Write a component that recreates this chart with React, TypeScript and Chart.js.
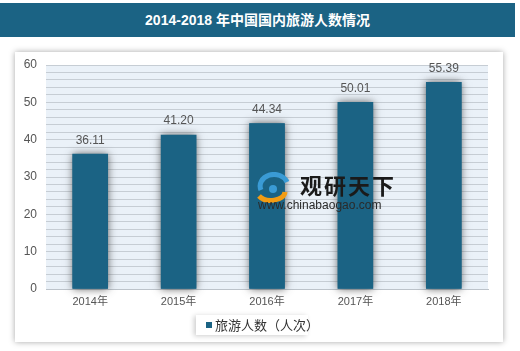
import React, { useEffect, useRef } from "react";
import { Chart, registerables } from "chart.js";

Chart.register(...registerables);

const categories = ["2014年", "2015年", "2016年", "2017年", "2018年"];
const seriesName = "旅游人数（人次）";
const values = [36.11, 41.2, 44.34, 50.01, 55.39];
const yTicks = [0, 10, 20, 30, 40, 50, 60];

const BAR = "#1b6384";
const FONT = "'Liberation Sans', 'Noto Sans CJK SC', Arial, sans-serif";

export default function App() {
  const ref = useRef<HTMLCanvasElement | null>(null);

  useEffect(() => {
    document.body.style.margin = "0";
    const bgPlugin = {
      id: "plotBg",
      beforeDraw(chart: any) {
        const { ctx, chartArea: a } = chart;
        ctx.save();
        ctx.fillStyle = "#eaf1f8";
        ctx.fillRect(a.left, a.top, a.right - a.left, a.bottom - a.top);
        ctx.restore();
      },
    };
    const shadowPlugin = {
      id: "barShadow",
      beforeDatasetsDraw(chart: any) {
        const ctx = chart.ctx;
        const meta = chart.getDatasetMeta(0);
        ctx.save();
        ctx.shadowColor = "rgba(60,60,60,0.8)";
        ctx.shadowBlur = 8;
        ctx.shadowOffsetX = 0;
        ctx.shadowOffsetY = 0;
        ctx.fillStyle = BAR;
        meta.data.forEach((bar: any) => {
          const p = bar.getProps(["x", "y", "base", "width"], true);
          ctx.fillRect(p.x - p.width / 2, p.y, p.width, p.base - p.y);
        });
        ctx.restore();
      },
      afterDatasetsDraw(chart: any) {
        const ctx = chart.ctx;
        const meta = chart.getDatasetMeta(0);
        ctx.save();
        ctx.font = `12px ${FONT}`;
        ctx.fillStyle = "#555555";
        ctx.textAlign = "center";
        ctx.textBaseline = "middle";
        meta.data.forEach((bar: any, i: number) => {
          ctx.fillText(values[i].toFixed(2), bar.x, bar.y - 14);
        });
        ctx.restore();
      },
    };

    const chart = new Chart(ref.current as HTMLCanvasElement, {
      type: "bar",
      data: {
        labels: categories,
        datasets: [
          {
            label: seriesName,
            data: values,
            backgroundColor: BAR,
            borderWidth: 0,
            barThickness: 35,
          },
        ],
      },
      options: {
        responsive: false,
        animation: false,
        layout: { padding: { left: 15, right: 32, top: 65, bottom: 0 } },
        plugins: {
          legend: { display: false },
          tooltip: { enabled: false },
          title: { display: false },
        },
        scales: {
          x: {
            grid: { display: false, drawTicks: false },
            border: { display: true, color: "#bcc3ca", width: 1 },
            ticks: {
              padding: 6,
              color: "#555555",
              font: { size: 11, family: FONT },
            },
            afterFit(scale: any) {
              scale.height = 62;
            },
          },
          y: {
            min: 0,
            max: 60,
            grid: { color: "#c6cdd4", lineWidth: 1, drawTicks: false },
            border: { display: false },
            ticks: {
              stepSize: 2,
              autoSkip: false,
              padding: 9,
              color: "#555555",
              font: { size: 12, family: FONT },
              callback: (v: any) => (yTicks.includes(Number(v)) ? String(v) : ""),
            },
            afterFit(scale: any) {
              scale.width = 31;
            },
          },
        },
      },
      plugins: [bgPlugin, shadowPlugin],
    });
    return () => chart.destroy();
  }, []);

  return (
    <div style={{ position: "relative", width: 520, height: 351, background: "#ffffff", overflow: "hidden", fontFamily: FONT }}>
      <div
        style={{
          position: "absolute",
          left: 0,
          top: 3,
          width: 515,
          height: 34,
          background: BAR,
          color: "#ffffff",
          fontWeight: "bold",
          fontSize: 14,
          lineHeight: "34px",
          textAlign: "center",
        }}
      >
        2014-2018 年中国国内旅游人数情况
      </div>
      <div
        style={{
          position: "absolute",
          left: 15,
          top: 52,
          width: 488,
          height: 290,
          background: "#ffffff",
          boxShadow: "0 0 6px rgba(0,0,0,0.35)",
        }}
      />
      <canvas ref={ref} width={520} height={351} style={{ position: "absolute", left: 0, top: 0 }} />
      <div style={{ position: "absolute", left: 253, top: 170, width: 150, height: 45, pointerEvents: "none" }}>
        <svg width="40" height="32" style={{ position: "absolute", left: 2, top: 2 }}>
          <path d="M6 18 A12 10 0 0 1 32 10" stroke="#3a9bd5" strokeWidth="5" fill="none" />
          <path d="M4 24 A14 9 0 0 0 30 20" stroke="#f39c12" strokeWidth="5" fill="none" />
          <circle cx="18" cy="17" r="4" fill="#3a9bd5" />
        </svg>
        <div style={{ position: "absolute", left: 47, top: 0, fontSize: 22, fontWeight: "bold", color: "#1a1a1a", letterSpacing: 2, fontFamily: "'Noto Sans CJK SC', sans-serif", lineHeight: "28px" }}>
          观研天下
        </div>
        <div style={{ position: "absolute", left: 5, top: 28, fontSize: 12, color: "#2a2a2a", lineHeight: "14px" }}>
          www.chinabaogao.com
        </div>
      </div>
      <div
        style={{
          position: "absolute",
          left: 196,
          top: 315,
          width: 112,
          height: 20,
          background: "#ffffff",
          boxShadow: "-2px 1px 5px rgba(0,0,0,0.2)",
        }}
      >
        <div style={{ position: "absolute", left: 10, top: 7, width: 6, height: 6, background: BAR }} />
        <div style={{ position: "absolute", left: 19, top: 0, fontSize: 13, lineHeight: "20px", color: "#333333", whiteSpace: "nowrap", fontFamily: "'Noto Sans CJK SC', sans-serif" }}>
          {seriesName}
        </div>
      </div>
    </div>
  );
}
